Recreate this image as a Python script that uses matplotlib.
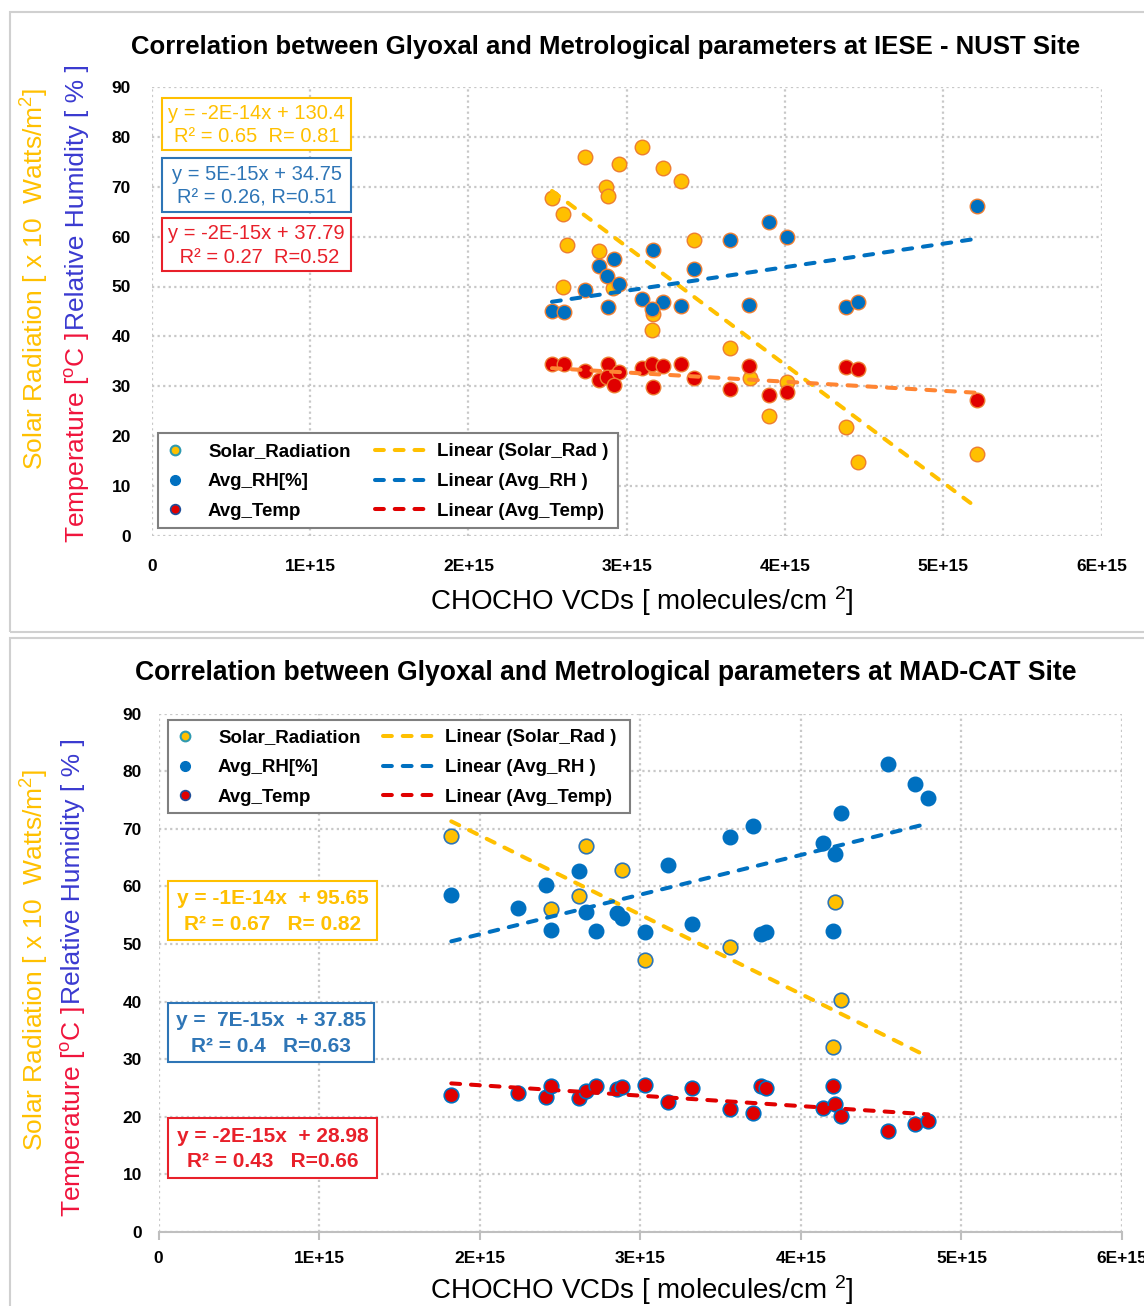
import numpy as np
import matplotlib
matplotlib.use('Agg')
import matplotlib.pyplot as plt
from matplotlib.lines import Line2D
from matplotlib.patches import Rectangle

plt.rcParams['font.family'] = ['Liberation Sans', 'DejaVu Sans']
plt.rcParams['mathtext.default'] = 'regular'

# ---------------- data: IESE - NUST site (top chart) ----------------
nust_solar_x = [2.737e15, 3.097e15, 2.951e15, 3.231e15, 3.343e15, 2.869e15, 2.880e15, 2.528e15,
                2.600e15, 2.621e15, 2.825e15, 3.423e15, 2.600e15, 2.915e15, 3.168e15, 3.160e15,
                3.653e15, 3.779e15, 4.015e15, 3.901e15, 4.385e15, 4.459e15, 5.211e15]
nust_solar_y = [76.1, 78.1, 74.5, 73.7, 71.2, 70.0, 68.2, 67.8,
                64.6, 58.3, 57.1, 59.3, 49.8, 49.6, 44.5, 41.3,
                37.7, 31.6, 30.9, 23.9, 21.8, 14.7, 16.3]

nust_rh_x = [5.211e15, 3.901e15, 3.653e15, 4.015e15, 3.168e15, 2.922e15, 2.825e15, 2.874e15,
             3.425e15, 2.953e15, 2.737e15, 3.099e15, 3.231e15, 3.343e15, 3.162e15, 2.880e15,
             3.774e15, 4.383e15, 4.463e15, 2.528e15, 2.606e15]
nust_rh_y = [66.2, 63.0, 59.3, 60.0, 57.3, 55.5, 54.1, 52.1,
             53.5, 50.5, 49.2, 47.5, 46.9, 46.1, 45.4, 45.8,
             46.2, 45.8, 46.9, 45.1, 44.8]

nust_temp_x = [2.528e15, 2.606e15, 2.737e15, 2.880e15, 2.827e15, 2.874e15, 2.953e15, 2.922e15,
               3.099e15, 3.162e15, 3.231e15, 3.343e15, 3.168e15, 3.425e15, 3.653e15, 3.774e15,
               3.901e15, 4.015e15, 4.383e15, 4.463e15, 5.211e15]
nust_temp_y = [34.4, 34.4, 33.1, 34.4, 31.2, 31.9, 32.8, 30.2,
               33.7, 34.4, 34.0, 34.4, 29.8, 31.6, 29.5, 34.1,
               28.2, 28.8, 33.8, 33.4, 27.2]

# trend lines as drawn (slope, intercept)
nust_fit = {'solar': (-2.37e-14, 129.1), 'rh': (4.72e-15, 35.0), 'temp': (-1.84e-15, 38.25)}
nust_eq = ['y = -2E-14x + 130.4\nR\u00b2 = 0.65  R= 0.81',
           'y = 5E-15x + 34.75\nR\u00b2 = 0.26, R=0.51',
           'y = -2E-15x + 37.79\n R\u00b2 = 0.27  R=0.52']

# ---------------- data: MAD-CAT site (bottom chart) ----------------
mad_x = [1.823e15, 2.241e15, 2.412e15, 2.447e15, 2.620e15, 2.662e15, 2.724e15, 2.852e15,
         2.886e15, 3.028e15, 3.171e15, 3.323e15, 3.556e15, 3.701e15, 3.753e15, 3.784e15,
         4.138e15, 4.200e15, 4.210e15, 4.252e15, 4.543e15, 4.710e15, 4.793e15]
mad_rh_y = [58.5, 56.3, 60.2, 52.5, 62.6, 55.6, 52.3, 55.4,
            54.5, 52.1, 63.7, 53.5, 68.5, 70.4, 51.8, 52.1,
            67.5, 52.3, 65.6, 72.7, 81.3, 77.8, 75.3]
mad_temp_y = [23.8, 24.1, 23.5, 25.4, 23.2, 24.4, 25.4, 24.8,
              25.1, 25.6, 22.6, 25.0, 21.3, 20.7, 25.4, 25.0,
              21.6, 25.4, 22.2, 20.1, 17.5, 18.7, 19.3]
mad_solar_x = [1.823e15, 2.447e15, 2.620e15, 2.662e15, 2.886e15, 3.028e15, 3.556e15, 4.200e15,
               4.210e15, 4.252e15]
mad_solar_y = [68.8, 56.0, 58.3, 67.0, 62.8, 47.3, 49.5, 32.2, 57.3, 40.2]

mad_fit = {'solar': (-1.377e-14, 96.4), 'rh': (6.89e-15, 37.9), 'temp': (-1.81e-15, 29.1)}
mad_eq = ['y = -1E-14x  + 95.65\nR\u00b2 = 0.67   R= 0.82',
          'y =  7E-15x  + 37.85\nR\u00b2 = 0.4   R=0.63',
          'y = -2E-15x  + 28.98\nR\u00b2 = 0.43   R=0.66']

x_ticks = [0, 1e15, 2e15, 3e15, 4e15, 5e15, 6e15]
x_tick_labels = ['0', '1E+15', '2E+15', '3E+15', '4E+15', '5E+15', '6E+15']
y_ticks = [0, 10, 20, 30, 40, 50, 60, 70, 80, 90]

marker_labels = ['Solar_Radiation', 'Avg_RH[%]', 'Avg_Temp']
line_labels = ['Linear (Solar_Rad )', 'Linear (Avg_RH )', 'Linear (Avg_Temp)']

GOLD = '#FFC000'
BLUE = '#0070C0'
RED = '#E00000'
ORANGE = '#ED7D31'
DASH = dict(lw=2.9, dashes=(2.2, 2.7), dash_capstyle='round')

W, H = 1144, 1306
fig = plt.figure(figsize=(W / 100, H / 100), dpi=100)


def fx(x):
    return x / W


def fy(y):
    return 1 - y / H


# panel frames (two stacked chart screenshots)
for y0, y1 in [(12, 632), (638, 1330)]:
    fig.patches.append(Rectangle((fx(10), fy(y1)), 1.0, (y1 - y0) / H, transform=fig.transFigure,
                                 fill=False, ec='#D0D0D0', lw=1.5))

ax1 = fig.add_axes([fx(151.8), fy(535.5), 949.8 / W, 448.2 / H])
ax2 = fig.add_axes([fx(158.5), fy(1232), 963.6 / W, 518.4 / H])

for ax in (ax1, ax2):
    ax.set_xlim(0, 6e15)
    ax.set_ylim(0, 90)
    ax.set_xticks(x_ticks)
    ax.set_xticklabels(x_tick_labels)
    ax.set_yticks(y_ticks)
    ax.grid(True, color='#C8C8C8', linestyle=(0, (1, 1.5)), lw=1.6)
    ax.set_axisbelow(True)
    for s in ax.spines.values():
        s.set_visible(False)
    ax.tick_params(length=0, labelsize=12.5)
    for lab in ax.get_xticklabels() + ax.get_yticklabels():
        lab.set_fontweight('bold')

ax1.tick_params(axis='y', pad=15)
ax1.tick_params(axis='x', pad=17)
ax2.tick_params(axis='y', pad=12)
ax2.spines['bottom'].set_visible(True)
ax2.spines['bottom'].set_color('#BFBFBF')
ax2.spines['bottom'].set_linewidth(1.5)
ax2.tick_params(axis='x', length=6, width=1.5, color='#BFBFBF', direction='out', pad=8)


def trend(ax, x, fit, color):
    xs = np.array([min(x), max(x)])
    ax.plot(xs, fit[0] * xs + fit[1], color=color, zorder=5, **DASH)


# ---- top chart ----
ax1.scatter(nust_solar_x, nust_solar_y, s=110, c=GOLD, edgecolors=ORANGE, linewidths=1.0, zorder=3)
ax1.scatter(nust_rh_x, nust_rh_y, s=110, c=BLUE, edgecolors=ORANGE, linewidths=1.0, zorder=3)
ax1.scatter(nust_temp_x, nust_temp_y, s=110, c=RED, edgecolors=ORANGE, linewidths=1.0, zorder=3)
nust_all_x = nust_solar_x + nust_rh_x + nust_temp_x
trend(ax1, nust_all_x, nust_fit['solar'], GOLD)
trend(ax1, nust_all_x, nust_fit['rh'], BLUE)
trend(ax1, nust_all_x, nust_fit['temp'], '#FF8533')

# ---- bottom chart ----
ax2.scatter(mad_solar_x, mad_solar_y, s=110, c=GOLD, edgecolors='#2E75B6', linewidths=1.2, zorder=3)
ax2.scatter(mad_x, mad_rh_y, s=110, c=BLUE, edgecolors=BLUE, linewidths=1.0, zorder=3)
ax2.scatter(mad_x, mad_temp_y, s=110, c=RED, edgecolors=BLUE, linewidths=1.2, zorder=3)
trend(ax2, mad_x, mad_fit['solar'], GOLD)
trend(ax2, mad_x, mad_fit['rh'], BLUE)
trend(ax2, mad_x, mad_fit['temp'], RED)

# legends: marker column and trend-line column, with one shared frame
marker_handles = [Line2D([], [], ls='none', marker='o', ms=7, mfc=GOLD, mec='#2E9AB0', mew=1.5),
                  Line2D([], [], ls='none', marker='o', ms=7, mfc=BLUE, mec=BLUE),
                  Line2D([], [], ls='none', marker='o', ms=7, mfc=RED, mec='#1F4E99', mew=1.2)]
line_handles = [Line2D([], [], color=GOLD, **DASH),
                Line2D([], [], color=BLUE, **DASH),
                Line2D([], [], color=RED, **DASH)]
LEG_FS = 13.5
leg_kw = dict(loc='center left', frameon=False, borderpad=0, borderaxespad=0,
              labelspacing=0.68, prop={'size': LEG_FS, 'weight': 'bold'})

for (x0, y0, x1, y1), mark_x, line_x in [((158, 433, 618, 528), 163, 375),
                                          ((168, 720, 630, 813), 173, 383)]:
    fig.patches.append(Rectangle((fx(x0), fy(y1)), (x1 - x0) / W, (y1 - y0) / H,
                                 transform=fig.transFigure, fc='white', ec='#7F7F7F', lw=1.5))
    yc = fy((y0 + y1) / 2 + 1)
    fig.legend(marker_handles, marker_labels, bbox_to_anchor=(fx(mark_x), yc),
               handlelength=24 * 0.72 / LEG_FS, handletextpad=21 * 0.72 / LEG_FS, **leg_kw)
    fig.legend(line_handles, line_labels, bbox_to_anchor=(fx(line_x), yc),
               handlelength=53 * 0.72 / LEG_FS, handletextpad=9 * 0.72 / LEG_FS, **leg_kw)

# equation boxes
eq_colors = [GOLD, '#2E75B6', '#E8202A']
boxes_top = [(162, 98, 351, 150), (162, 158, 351, 212), (162, 218, 351, 271)]
boxes_bot = [(168, 881, 377, 940), (168, 1003, 374, 1062), (168, 1118, 377, 1178)]
for boxes, eqs, weight, size, ls in [(boxes_top, nust_eq, 'normal', 14.5, 1.3),
                                     (boxes_bot, mad_eq, 'bold', 15, 1.45)]:
    for (x0, y0, x1, y1), txt, col in zip(boxes, eqs, eq_colors):
        fig.patches.append(Rectangle((fx(x0), fy(y1)), (x1 - x0) / W, (y1 - y0) / H,
                                     transform=fig.transFigure, fc='white', ec=col, lw=1.5, zorder=5))
        fig.text(fx((x0 + x1) / 2), fy((y0 + y1) / 2 + 1), txt, ha='center', va='center',
                 color=col, fontsize=size, fontweight=weight, linespacing=ls, zorder=6)

# titles
fig.text(fx(606), fy(47), 'Correlation between Glyoxal and Metrological parameters at IESE - NUST Site',
         ha='center', va='center', fontsize=18.5, fontweight='bold')
fig.text(fx(606), fy(673), 'Correlation between Glyoxal and Metrological parameters at MAD-CAT Site',
         ha='center', va='center', fontsize=19.1, fontweight='bold')

# x labels
for y in (601, 1290):
    fig.text(fx(642), fy(y), 'CHOCHO VCDs [ molecules/cm $^{2}$]', ha='center', va='center', fontsize=20)

# y labels (multi-coloured, rotated)
for gold_x, gold_y, rb_x, split_y in [(35, 279, 77, 330), (35, 960, 73, 1004)]:
    fig.text(fx(gold_x), fy(gold_y), 'Solar Radiation [ x 10  Watts/m$^{2}$]', rotation=90,
             ha='center', va='center', color=GOLD, fontsize=19)
    fig.text(fx(rb_x), fy(split_y), 'Temperature [$^{o}$C ] ', rotation=90,
             ha='center', va='top', color='#F0143C', fontsize=19)
    fig.text(fx(rb_x), fy(split_y), 'Relative Humidity [ % ]', rotation=90,
             ha='center', va='bottom', color='#3A3AD0', fontsize=19)

fig.savefig('out.png', dpi=100)
